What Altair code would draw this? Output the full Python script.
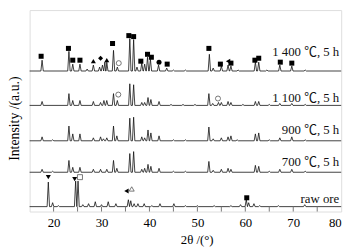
import altair as alt
import pandas as pd

# ---- data (2θ in degrees, intensity in arbitrary units) ----
labels = ["1 400 ℃, 5 h", "1 100 ℃, 5 h", "900 ℃, 5 h", "700 ℃, 5 h", "raw ore"]
offsets = [143, 108, 72, 40, 5]
label_y = [162, 115, 83, 50, 13]

pos_1400 = [17.6, 23.2, 24.0, 25.5, 27.0, 28.3, 29.6, 30.2, 30.7, 31.1, 32.5, 33.3, 35.9, 36.7, 37.4,
            38.4, 39.0, 39.6, 40.2, 41.9, 43.6, 45.0, 47.5, 52.5, 53.3, 55.0, 56.4, 57.0, 58.5, 62.1,
            62.8, 64.5, 67.2, 69.7, 72.5]
int_1400 = [11, 20, 7, 7, 2, 6, 4, 6, 9, 9, 21, 4, 33, 32, 4,
            8, 7, 14, 12, 6, 3, 1, 1, 17, 3, 5, 6, 5, 1, 9,
            9, 1, 6, 5, 1]

pos_1100 = [17.6, 23.2, 24.0, 25.5, 28.3, 29.8, 30.5, 31.1, 32.5, 33.3, 35.9, 36.7, 38.4, 39.0, 39.7,
            40.3, 42.0, 44.5, 47.0, 49.5, 52.4, 53.2, 54.4, 55.0, 56.4, 57.0, 59.5, 62.1, 62.8, 65.0,
            67.2, 69.7, 72.5]
int_1100 = [4, 12, 5, 5, 4, 3, 5, 5, 12, 5, 22, 21, 3, 3, 8,
            6, 4, 1, 1, 1, 12, 2, 3, 3, 4, 3, 1, 4, 4, 1,
            2, 2, 1]

pos_900 = [17.6, 19.8, 23.2, 24.0, 25.5, 28.3, 29.8, 30.4, 31.1, 32.5, 33.2, 35.9, 36.7, 38.4, 39.0,
           39.7, 40.3, 42.0, 45.0, 47.5, 52.4, 53.3, 55.0, 56.4, 57.0, 58.3, 62.1, 62.8, 65.0, 67.2,
           69.7, 72.5]
int_900 = [4, 1, 15, 7, 7, 3, 4, 2, 3, 15, 5, 23, 24, 4, 3,
           11, 8, 5, 1, 1, 14, 2, 3, 4, 5, 1, 7, 8, 1, 3,
           4, 1]

pos_700 = [17.6, 19.8, 23.2, 24.0, 25.5, 28.3, 29.8, 31.1, 32.5, 33.2, 35.9, 36.7, 38.4, 39.0, 39.7,
           40.3, 42.0, 45.0, 47.5, 52.4, 53.3, 55.0, 56.4, 57.0, 62.1, 62.8, 65.0, 67.2, 69.7, 72.5]
int_700 = [3, 1, 12, 5, 5, 3, 3, 3, 12, 4, 19, 21, 3, 4, 8,
           6, 4, 1, 1, 11, 2, 3, 4, 3, 7, 6, 1, 3, 3, 1]

pos_raw = [18.9, 19.8, 21.0, 24.6, 25.1, 26.1, 27.3, 28.7, 30.0, 31.4, 33.0, 35.6, 36.1, 36.8, 37.6,
           38.9, 40.5, 42.2, 45.1, 47.5, 50.0, 53.5, 57.0, 59.0, 60.2, 60.7, 61.8, 63.0, 66.9, 72.4]
int_raw = [25, 4, 1, 26, 26, 2, 3, 5, 2, 5, 3, 7, 6, 3, 3,
           3, 1, 3, 3, 1, 1, 1, 1, 2, 7, 4, 3, 1, 1, 2]

# phase markers: 2θ, vertical position, symbol, filled
mk_x = [17.4, 23.1, 24.0, 25.5, 28.3, 29.8, 31.1, 32.3, 33.6, 35.7, 36.7, 38.2, 39.6, 40.4, 42.0, 43.7,
        52.4, 54.8, 56.4, 57.0, 62.0, 62.8, 67.3, 69.7,
        33.5, 54.3,
        18.9, 24.4, 25.5, 35.2, 36.3, 60.3]
mk_y = [158, 166, 154, 154, 153, 156, 154, 171, 151, 179, 178, 153, 160, 157, 152, 150,
        166, 150, 153, 151, 154, 156, 152, 151,
        119, 115,
        35, 33, 35, 21, 23, 14]
mk_shape = ["square", "square", "square", "square", "triangle-up", "diamond", "triangle-up", "square",
            "circle", "square", "square", "square", "square", "square", "circle", "square",
            "square", "square", "triangle-left", "square", "square", "square", "square", "square",
            "circle", "circle",
            "triangle-down", "triangle-down", "square", "triangle-left", "triangle-up", "square"]
mk_filled = [1, 1, 1, 1, 1, 1, 1, 1, 0, 1, 1, 1, 1, 1, 1, 1,
             1, 1, 1, 1, 1, 1, 1, 1,
             0, 0,
             1, 1, 0, 1, 0, 1]

tick_pos = [20, 25, 30, 35, 40, 45, 50, 55, 60, 65, 70, 75]

# ---- build the line table ----
series = [(pos_1400, int_1400), (pos_1100, int_1100), (pos_900, int_900),
          (pos_700, int_700), (pos_raw, int_raw)]
half_w = 0.25
rows = []
for name, off, (ps, hs) in zip(labels, offsets, series):
    rows.append({"s": name, "x": 15.0, "y": off})
    for p, h in zip(ps, hs):
        rows.append({"s": name, "x": p - half_w, "y": off})
        rows.append({"s": name, "x": p, "y": off + h})
        rows.append({"s": name, "x": p + half_w, "y": off})
    rows.append({"s": name, "x": 80.0, "y": off})
lines_df = pd.DataFrame(rows)

mk_df = pd.DataFrame({"x": mk_x, "y": mk_y, "shape": mk_shape, "filled": mk_filled})
lab_df = pd.DataFrame({"x": [79.6] * len(labels), "y": label_y, "t": labels})
tick_df = pd.DataFrame({"x": tick_pos})

FONT = "Liberation Serif"
LABEL_FONT = "Liberation Serif, Noto Sans CJK SC"
xscale = alt.Scale(domain=[15, 80], nice=False, zero=False)
yscale = alt.Scale(domain=[0, 205], nice=False, zero=False)

xaxis = alt.Axis(values=[20, 30, 40, 50, 60, 70, 80], title="2θ /(°)", tickSize=0, domain=False,
                 grid=False, labelFont=FONT, labelFontSize=13, labelPadding=5, labelColor="black",
                 titleFont=FONT, titleFontSize=13, titleFontWeight="normal", titleColor="black",
                 titleX=170, titleY=29, titleBaseline="middle")
yaxis = alt.Axis(title="Intensity /(a.u.)", labels=False, ticks=False, domain=False, grid=False,
                 titleFont=FONT, titleFontSize=14, titleFontWeight="normal", titleColor="black",
                 titleX=-8, titleY=110)

lines = alt.Chart(lines_df).mark_line(color="#111", strokeWidth=0.8).encode(
    x=alt.X("x:Q", scale=xscale, axis=xaxis),
    y=alt.Y("y:Q", scale=yscale, axis=yaxis),
    detail="s:N",
)

filled_pts = alt.Chart(mk_df).transform_filter("datum.filled == 1").mark_point(
    filled=True, color="black", size=26, opacity=1).encode(
    x=alt.X("x:Q", scale=xscale), y=alt.Y("y:Q", scale=yscale),
    shape=alt.Shape("shape:N", scale=None))

open_pts = alt.Chart(mk_df).transform_filter("datum.filled == 0").mark_point(
    filled=False, color="#555", size=26, strokeWidth=0.8, opacity=1).encode(
    x=alt.X("x:Q", scale=xscale), y=alt.Y("y:Q", scale=yscale),
    shape=alt.Shape("shape:N", scale=None))

texts = alt.Chart(lab_df).mark_text(font=LABEL_FONT, fontSize=13, align="right", baseline="middle",
                                     color="#111").encode(
    x=alt.X("x:Q", scale=xscale), y=alt.Y("y:Q", scale=yscale), text="t:N")

ticks = alt.Chart(tick_df).mark_rule(color="#777", strokeWidth=1).encode(
    x=alt.X("x:Q", scale=xscale), y=alt.value(205), y2=alt.value(200))

chart = alt.layer(lines, filled_pts, open_pts, texts, ticks).properties(
    width=317, height=205,
    autosize=alt.AutoSizeParams(type="none"),
    padding={"left": 22, "top": 0, "right": 10, "bottom": 36},
).configure_view(stroke="#888", strokeWidth=1).configure(background="white")

chart.save("out.html", embed_options={"renderer": "svg", "actions": False})
